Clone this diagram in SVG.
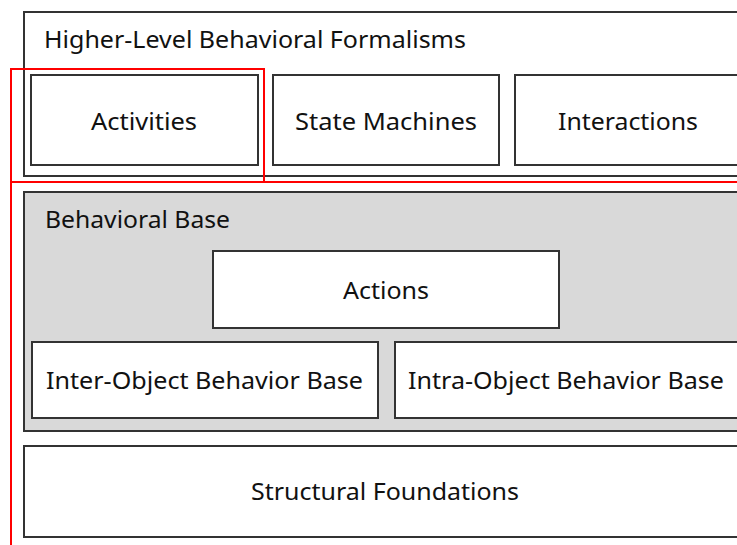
<svg xmlns="http://www.w3.org/2000/svg" width="737" height="545" viewBox="0 0 737 545">
<style>
.box{fill:#fff;stroke:#333;stroke-width:2}
.grey{fill:#d9d9d9;stroke:#333;stroke-width:2}
.t{font-family:"Noto Sans","Open Sans","Liberation Sans",sans-serif;font-size:24px;fill:#111}
.red{fill:none;stroke:#f00;stroke-width:2}
</style>
<rect width="737" height="545" fill="#fff"/>
<g id="higher-level">
<rect class="box" x="24" y="12" width="730" height="164"/>
<text class="t" x="44" y="48" textLength="422" lengthAdjust="spacingAndGlyphs">Higher-Level Behavioral Formalisms</text>
</g>
<g id="activities">
<rect class="box" x="31" y="75" width="227" height="90"/>
<text class="t" x="91" y="130" textLength="106" lengthAdjust="spacingAndGlyphs">Activities</text>
</g>
<g id="state-machines">
<rect class="box" x="273" y="75" width="226" height="90"/>
<text class="t" x="295" y="130" textLength="182" lengthAdjust="spacingAndGlyphs">State Machines</text>
</g>
<g id="interactions">
<rect class="box" x="515" y="75" width="240" height="90"/>
<text class="t" x="558" y="130" textLength="140" lengthAdjust="spacingAndGlyphs">Interactions</text>
</g>
<g id="behavioral-base">
<rect class="grey" x="24" y="192" width="730" height="239"/>
<text class="t" x="45" y="228" textLength="185" lengthAdjust="spacingAndGlyphs">Behavioral Base</text>
</g>
<g id="actions">
<rect class="box" x="213" y="251" width="346" height="77"/>
<text class="t" x="343" y="299" textLength="86" lengthAdjust="spacingAndGlyphs">Actions</text>
</g>
<g id="inter-object">
<rect class="box" x="32" y="342" width="346" height="76"/>
<text class="t" x="46" y="389" textLength="317" lengthAdjust="spacingAndGlyphs">Inter-Object Behavior Base</text>
</g>
<g id="intra-object">
<rect class="box" x="395" y="342" width="360" height="76"/>
<text class="t" x="408" y="389" textLength="316" lengthAdjust="spacingAndGlyphs">Intra-Object Behavior Base</text>
</g>
<g id="structural-foundations">
<rect class="box" x="24" y="446" width="730" height="91"/>
<text class="t" x="251" y="500" textLength="268" lengthAdjust="spacingAndGlyphs">Structural Foundations</text>
</g>
<g id="connectors">
<path class="red" d="M264 182 V69 H11 V545"/>
<path class="red" d="M11 182 H737"/>
</g>
</svg>
